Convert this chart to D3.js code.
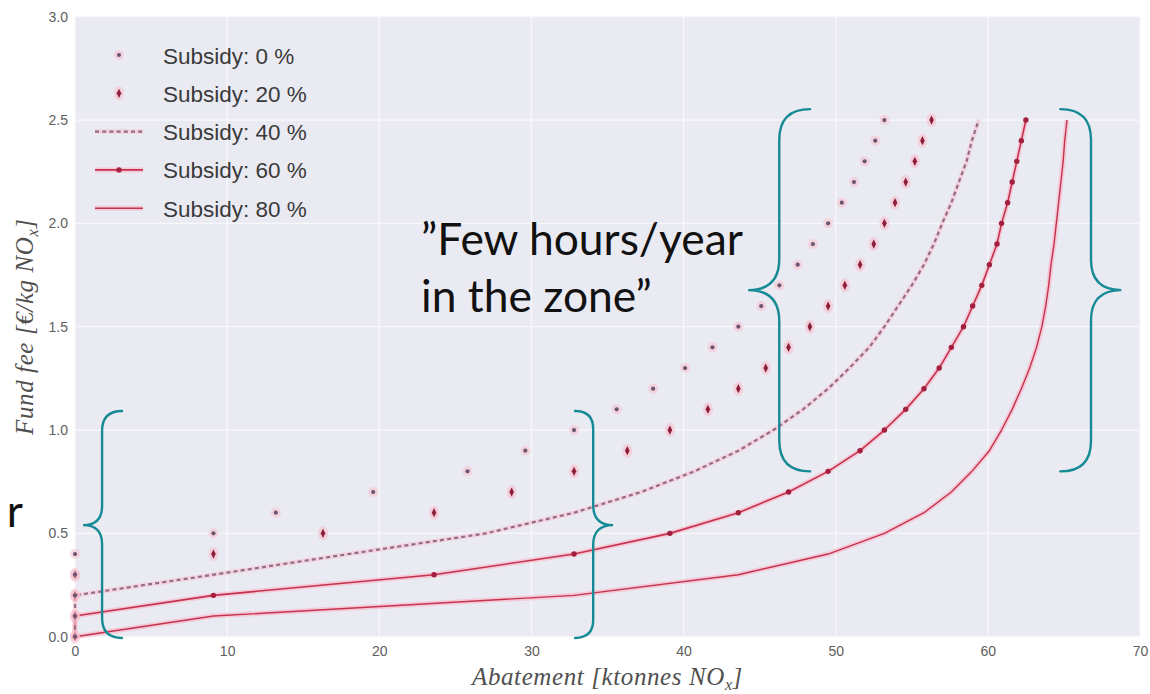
<!DOCTYPE html>
<html>
<head>
<meta charset="utf-8">
<script src="https://cdn.jsdelivr.net/npm/d3@7"></script>
<style>
  html, body { margin: 0; padding: 0; background: #ffffff; }
  svg { display: block; }
</style>
</head>
<body>
<svg id="chart" width="1150" height="694"></svg>
<script>
// Fund fee levels (€/kg NOx) at which each subsidy scenario was evaluated
const fee = [0, 0.1, 0.2, 0.3, 0.4, 0.5, 0.6, 0.7, 0.8, 0.9, 1.0, 1.1, 1.2,
             1.3, 1.4, 1.5, 1.6, 1.7, 1.8, 1.9, 2.0, 2.1, 2.2, 2.3, 2.4, 2.5];

// Abatement (ktonnes NOx) reached at each fee level, one list per subsidy share
const abatementSub0 = [0, 0, 0, 0, 0, 9.1, 13.2, 19.6, 25.8, 29.6, 32.8, 35.6, 38.0,
                       40.1, 41.9, 43.6, 45.1, 46.3, 47.5, 48.5, 49.5, 50.4, 51.2, 51.9, 52.6, 53.2];
const abatementSub20 = [0, 0, 0, 0, 9.1, 16.3, 23.6, 28.7, 32.8, 36.3, 39.1, 41.6, 43.6,
                        45.4, 46.9, 48.3, 49.5, 50.6, 51.6, 52.5, 53.2, 53.9, 54.6, 55.2, 55.7, 56.3];
const abatementSub40 = [0, 0, 0, 9.1, 18.0, 27.0, 32.8, 37.2, 40.7, 43.6, 45.9, 47.85, 49.5,
                        50.9, 52.2, 53.2, 54.1, 55.0, 55.8, 56.45, 57.0, 57.6, 58.1, 58.6, 58.95, 59.4];
const abatementSub60 = [0, 0, 9.1, 23.6, 32.8, 39.1, 43.6, 46.9, 49.5, 51.6, 53.2, 54.6, 55.8,
                        56.8, 57.6, 58.4, 59.0, 59.6, 60.1, 60.6, 60.9, 61.3, 61.6, 61.9, 62.2, 62.5];
const abatementSub80 = [0, 9.1, 32.8, 43.6, 49.5, 53.2, 55.8, 57.6, 58.95, 60.1, 60.9, 61.6, 62.2,
                        62.75, 63.2, 63.55, 63.8, 64.0, 64.15, 64.35, 64.5, 64.65, 64.8, 64.95, 65.05, 65.2];

const legendLabels = ["Subsidy: 0 %", "Subsidy: 20 %", "Subsidy: 40 %", "Subsidy: 60 %", "Subsidy: 80 %"];

const xTicks = [0, 10, 20, 30, 40, 50, 60, 70];
const yTicks = [0.0, 0.5, 1.0, 1.5, 2.0, 2.5, 3.0];

// Callout braces, spanning ranges in data units (abatement, fee)
const braces = [
  { side: "left",  tip: 0.53,  stem: 1.78,  end: 3.09,  top: 1.092, bottom: -0.006, mid: 0.54 },
  { side: "right", tip: 35.37, stem: 34.06, end: 32.87, top: 1.092, bottom: -0.006, mid: 0.54 },
  { side: "left",  tip: 44.25, stem: 46.29, end: 48.32, top: 2.553, bottom: 0.80,   mid: 1.677 },
  { side: "right", tip: 68.77, stem: 66.78, end: 64.76, top: 2.553, bottom: 0.80,   mid: 1.677 }
];

const calloutLines = ["\u201DFew hours/year", "in the zone\u201D"];

// ---------------------------------------------------------------
const svg = d3.select("#chart");
const W = 1150, H = 694;
const plot = { left: 75, right: 1140, top: 16.7, bottom: 636.7 };

const x = d3.scaleLinear().domain([0, 70]).range([plot.left, plot.right]);
const y = d3.scaleLinear().domain([0, 3]).range([plot.bottom, plot.top]);

svg.append("rect").attr("width", W).attr("height", H).attr("fill", "#ffffff");

// seaborn-like dark grid panel
svg.append("rect")
  .attr("x", x(0)).attr("y", y(3))
  .attr("width", x(70) - x(0)).attr("height", y(0) - y(3))
  .attr("fill", "#eaeaf2");

const grid = svg.append("g").attr("stroke", "#f8f8fb").attr("stroke-width", 1.3);
grid.selectAll("line.gx").data(xTicks).join("line")
  .attr("x1", d => x(d)).attr("x2", d => x(d))
  .attr("y1", y(3)).attr("y2", y(0));
grid.selectAll("line.gy").data(yTicks).join("line")
  .attr("y1", d => y(d)).attr("y2", d => y(d))
  .attr("x1", x(0)).attr("x2", x(70));

// Axes (tick labels only, no spines)
const xAxis = svg.append("g")
  .attr("transform", `translate(0,${plot.bottom})`)
  .call(d3.axisBottom(x).tickValues(xTicks).tickFormat(d3.format("d")).tickSize(0).tickPadding(9));
const yAxis = svg.append("g")
  .attr("transform", `translate(${plot.left},0)`)
  .call(d3.axisLeft(y).tickValues(yTicks).tickFormat(d3.format(".1f")).tickSize(0).tickPadding(7));
[xAxis, yAxis].forEach(a => {
  a.select(".domain").remove();
  a.selectAll("text")
    .attr("fill", "#5e5e5e")
    .style("font-family", "'Liberation Sans', Arial, sans-serif")
    .style("font-size", "14px");
});

// Axis titles (math-italic style)
const xTitle = svg.append("text")
  .attr("x", (plot.left + plot.right) / 2).attr("y", 685)
  .attr("text-anchor", "middle")
  .attr("fill", "#505050")
  .style("font-family", "'Liberation Serif', 'DejaVu Serif', serif")
  .style("font-style", "italic")
  .style("font-size", "25px")
  .style("letter-spacing", "0.6px");
xTitle.append("tspan").text("Abatement [ktonnes NO");
xTitle.append("tspan").attr("dy", 5).style("font-size", "16px").text("x");
xTitle.append("tspan").attr("dy", -5).text("]");

const yTitle = svg.append("text")
  .attr("transform", `translate(33,${(plot.top + plot.bottom) / 2}) rotate(-90)`)
  .attr("text-anchor", "middle")
  .attr("fill", "#505050")
  .style("font-family", "'Liberation Serif', 'DejaVu Serif', serif")
  .style("font-style", "italic")
  .style("font-size", "25px")
  .style("letter-spacing", "0.6px");
yTitle.append("tspan").text("Fund fee [\u20AC/kg NO");
yTitle.append("tspan").attr("dy", 5).style("font-size", "16px").text("x");
yTitle.append("tspan").attr("dy", -5).text("]");

// ---------------------------------------------------------------
// Series
const toPoints = arr => arr.map((a, i) => ({ a, f: fee[i] }));
const line = d3.line().x(d => x(d.a)).y(d => y(d.f));

const HALO = "#f7bfcd";
const CORE = "#c4324f";

const series = svg.append("g");

function drawLine(arr, dashed, width) {
  const pts = toPoints(arr);
  series.append("path").datum(pts)
    .attr("d", line).attr("fill", "none")
    .attr("stroke", HALO).attr("stroke-width", dashed ? 4.5 : 5)
    .attr("stroke-opacity", dashed ? 0.55 : 0.75)
    .attr("stroke-linejoin", "round");
  series.append("path").datum(pts)
    .attr("d", line).attr("fill", "none")
    .attr("stroke", dashed ? "#956b85" : CORE)
    .attr("stroke-width", width)
    .attr("stroke-dasharray", dashed ? "4,3.2" : null)
    .attr("stroke-linejoin", "round");
}

drawLine(abatementSub80, false, 1.4);
drawLine(abatementSub60, false, 1.6);
drawLine(abatementSub40, true, 2.2);

// 60 % markers on the line
series.append("g").selectAll("circle").data(toPoints(abatementSub60)).join("circle")
  .attr("cx", d => x(d.a)).attr("cy", d => y(d.f)).attr("r", 2.7)
  .attr("fill", "#a21f3d");

// 20 % thin diamonds
const diamond = "M0,-4.6L2.3,0L0,4.6L-2.3,0Z";
const d20 = series.append("g").selectAll("g").data(toPoints(abatementSub20)).join("g")
  .attr("transform", d => `translate(${x(d.a)},${y(d.f)})`);
d20.append("ellipse").attr("rx", 5).attr("ry", 7).attr("fill", HALO).attr("opacity", 0.6);
d20.append("path").attr("d", diamond).attr("fill", "#8e1d39");

// 0 % small dots
const d0 = series.append("g").selectAll("g").data(toPoints(abatementSub0)).join("g")
  .attr("transform", d => `translate(${x(d.a)},${y(d.f)})`);
d0.append("circle").attr("r", 5).attr("fill", HALO).attr("opacity", 0.55);
d0.append("circle").attr("r", 2.1).attr("fill", "#6d5672");

// ---------------------------------------------------------------
// Legend
const legend = svg.append("g").attr("transform", "translate(95,55)");
const rowH = 38.3;
const rows = legend.selectAll("g").data(legendLabels).join("g")
  .attr("transform", (d, i) => `translate(0,${i * rowH})`);
rows.append("text")
  .attr("x", 68).attr("y", 8.5)
  .attr("fill", "#3a3a3a")
  .style("font-family", "'Liberation Sans', Arial, sans-serif")
  .style("font-size", "22.5px")
  .text(d => d);

// legend glyphs
const g0 = legend.append("g").attr("transform", "translate(24,0)");
g0.append("circle").attr("r", 5).attr("fill", HALO).attr("opacity", 0.55);
g0.append("circle").attr("r", 2.1).attr("fill", "#6d5672");
const g20 = legend.append("g").attr("transform", `translate(24,${rowH})`);
g20.append("ellipse").attr("rx", 5).attr("ry", 7).attr("fill", HALO).attr("opacity", 0.6);
g20.append("path").attr("d", diamond).attr("fill", "#8e1d39");
[2, 3, 4].forEach(i => {
  const yy = i * rowH;
  legend.append("line").attr("x1", 0).attr("x2", 48).attr("y1", yy).attr("y2", yy)
    .attr("stroke", HALO).attr("stroke-width", i === 2 ? 4.5 : 5)
    .attr("stroke-opacity", i === 2 ? 0.55 : 0.75);
  legend.append("line").attr("x1", 0).attr("x2", 48).attr("y1", yy).attr("y2", yy)
    .attr("stroke", i === 2 ? "#956b85" : CORE)
    .attr("stroke-width", i === 2 ? 2.2 : 1.6)
    .attr("stroke-dasharray", i === 2 ? "4,3.2" : null);
});
legend.append("circle").attr("cx", 24).attr("cy", 3 * rowH).attr("r", 2.7).attr("fill", "#a21f3d");

// ---------------------------------------------------------------
// Callout braces
function bracePath(b) {
  const xt = x(b.tip), xs = x(b.stem), xe = x(b.end);
  const yt = y(b.top), yb = y(b.bottom), ym = y(b.mid);
  const rc = Math.abs(xe - xs);
  const rt = Math.abs(xs - xt);
  return `M${xe},${yt}` +
    `Q${xs},${yt} ${xs},${yt + rc}` +
    `L${xs},${ym - rt}` +
    `Q${xs},${ym} ${xt},${ym}` +
    `Q${xs},${ym} ${xs},${ym + rt}` +
    `L${xs},${yb - rc}` +
    `Q${xs},${yb} ${xe},${yb}`;
}
svg.append("g").selectAll("path").data(braces).join("path")
  .attr("d", bracePath)
  .attr("fill", "none")
  .attr("stroke", "#168b95")
  .attr("stroke-width", 2.4)
  .attr("stroke-linecap", "round");

// Callout text
const callout = svg.append("text")
  .attr("fill", "#111111")
  .style("font-family", "Lato, 'Open Sans', sans-serif")
  .style("font-size", "40px");
callout.selectAll("tspan").data(calloutLines).join("tspan")
  .attr("x", 421).attr("y", (d, i) => 255 + i * 56.7)
  .text(d => d);
// fit the first line to its intended width
const firstLen = callout.select("tspan").node().getComputedTextLength();
callout.style("font-size", (40 * 322 / firstLen) + "px");

// tail of a callout running in from the left edge
svg.append("text")
  .attr("x", 23).attr("y", 527)
  .attr("text-anchor", "end")
  .attr("fill", "#111111")
  .style("font-family", "Lato, 'Open Sans', sans-serif")
  .style("font-size", callout.style("font-size"))
  .text("r");
</script>
</body>
</html>
